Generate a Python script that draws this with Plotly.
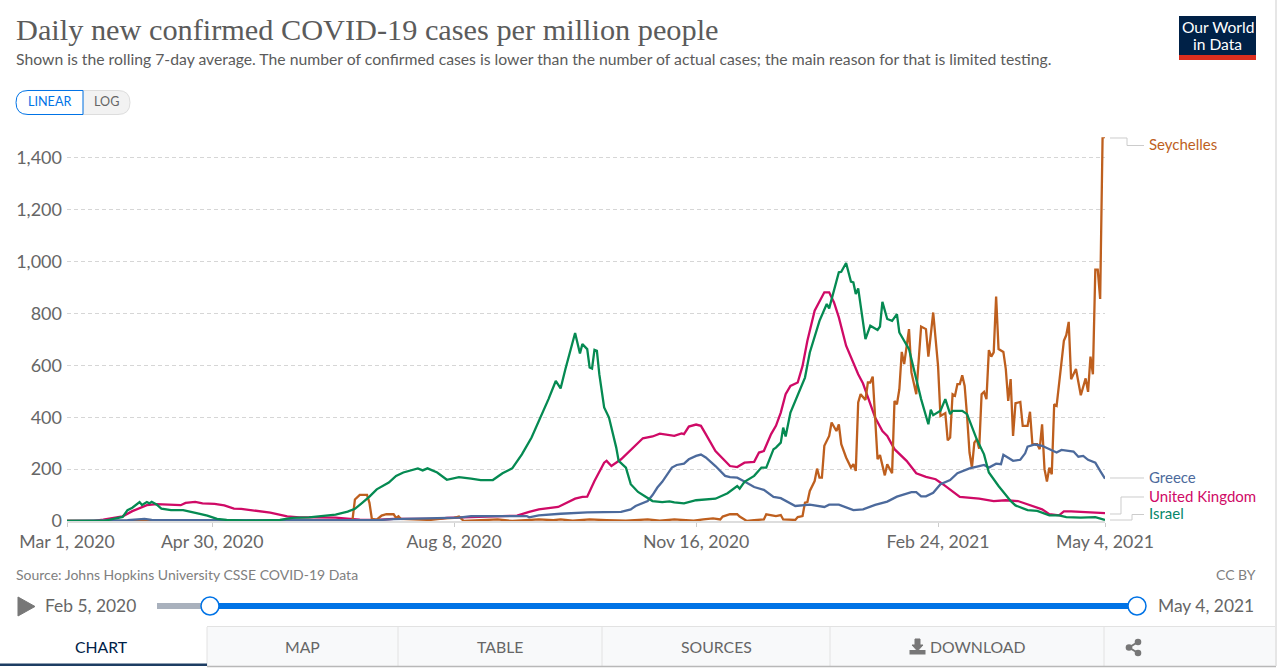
import pandas as pd
import plotly.graph_objects as go

W = 1280
H = 670

start_date = pd.Timestamp("2020-03-01")

# days since Mar 1, 2020 and cases per million
seychelles_days = [0, 60, 117, 118, 119, 121, 124, 125, 126, 128, 130, 132, 135, 136, 137, 138, 145, 150, 156, 160, 162, 164, 171, 178, 184, 195, 201, 204, 209, 216, 223, 231, 240, 245, 251, 256, 259, 263, 267, 270, 271, 274, 277, 278, 281, 284, 288, 289, 291, 293, 295, 296, 301, 302, 304, 305, 306, 307, 309, 310, 311, 312, 313, 315, 316, 318, 319, 320, 322, 324, 325, 326, 327, 328, 330, 331, 332, 333, 335, 336, 338, 339, 341, 342, 343, 344, 345, 346, 348, 349, 351, 353, 355, 356, 358, 360, 361, 363, 364, 365, 366, 367, 368, 369, 370, 371, 372, 373, 374, 375, 376, 377, 378, 379, 380, 381, 382, 383, 384, 385, 387, 388, 389, 390, 391, 392, 394, 395, 397, 398, 399, 401, 402, 403, 404, 405, 406, 407, 408, 409, 411, 412, 413, 414, 415, 417, 419, 421, 422, 423, 424, 425, 426, 427, 428, 429]
seychelles_cases = [0, 0, 0, 5, 83, 101, 101, 70, 8, 5, 21, 26, 26, 12, 18, 8, 5, 4, 10, 12, 17, 0, 3, 6, 0, 6, 3, 6, 1, 6, 3, 1, 6, 1, 6, 3, 1, 6, 10, 6, 17, 26, 26, 17, 0, 3, 6, 26, 23, 19, 23, 6, 4, 15, 19, 71, 73, 116, 154, 202, 167, 167, 290, 328, 380, 347, 373, 296, 245, 206, 219, 193, 457, 489, 467, 534, 534, 557, 238, 254, 176, 219, 184, 463, 450, 508, 652, 605, 740, 573, 489, 750, 740, 634, 804, 598, 405, 416, 311, 322, 489, 483, 528, 528, 562, 521, 405, 264, 206, 302, 315, 279, 489, 498, 470, 659, 634, 650, 866, 663, 652, 586, 463, 547, 328, 454, 459, 367, 367, 421, 296, 296, 277, 373, 200, 152, 206, 180, 450, 444, 611, 695, 717, 768, 547, 586, 485, 550, 498, 634, 566, 969, 969, 856, 1480, 1480]

greece_days = [0, 15, 25, 32, 35, 60, 100, 128, 135, 160, 162, 167, 190, 191, 195, 204, 215, 229, 233, 235, 240, 242, 244, 246, 250, 252, 255, 257, 260, 262, 264, 268, 272, 274, 277, 280, 284, 288, 292, 295, 297, 301, 307, 313, 315, 318, 319, 325, 329, 334, 339, 343, 346, 349, 351, 353, 355, 358, 361, 365, 368, 373, 377, 379, 381, 384, 386, 387, 390, 391, 394, 396, 397, 400, 403, 409, 411, 416, 418, 420, 422, 425, 427, 429]
greece_cases = [0, 1, 3, 8, 4, 3, 2, 3, 7, 10, 13, 19, 19, 14, 22, 28, 33, 35, 45, 58, 77, 100, 129, 151, 206, 216, 221, 238, 251, 256, 245, 212, 174, 169, 167, 152, 131, 120, 93, 88, 77, 58, 63, 54, 63, 62, 63, 42, 45, 62, 75, 94, 102, 111, 111, 95, 95, 109, 142, 158, 184, 203, 212, 216, 206, 221, 219, 255, 238, 232, 236, 261, 287, 295, 290, 264, 274, 268, 248, 251, 236, 225, 193, 163]

uk_days = [0, 11, 15, 23, 27, 33, 37, 43, 47, 49, 53, 56, 61, 65, 69, 72, 77, 84, 91, 96, 102, 111, 117, 121, 128, 135, 143, 153, 157, 162, 176, 186, 191, 195, 203, 210, 213, 215, 218, 222, 223, 225, 229, 234, 238, 242, 245, 251, 254, 255, 257, 260, 262, 264, 268, 274, 277, 280, 284, 286, 288, 291, 293, 295, 297, 299, 302, 304, 306, 309, 311, 313, 315, 317, 319, 322, 327, 329, 334, 337, 339, 342, 347, 351, 355, 359, 362, 369, 377, 383, 388, 393, 403, 406, 410, 412, 415, 425, 429]
uk_cases = [0, 0, 5, 18, 38, 61, 65, 61, 61, 70, 74, 68, 66, 60, 48, 47, 40, 32, 18, 14, 14, 13, 8, 5, 4, 8, 8, 8, 12, 14, 17, 21, 35, 45, 54, 86, 93, 94, 154, 225, 232, 212, 238, 283, 319, 326, 337, 328, 338, 335, 364, 372, 367, 335, 270, 212, 208, 225, 228, 264, 270, 335, 367, 418, 489, 521, 534, 598, 695, 811, 849, 882, 882, 843, 785, 676, 566, 530, 399, 347, 328, 277, 232, 184, 170, 161, 142, 93, 86, 77, 80, 77, 45, 26, 22, 37, 37, 32, 30]

israel_days = [0, 15, 23, 25, 27, 30, 31, 33, 34, 35, 37, 39, 43, 48, 54, 58, 62, 66, 74, 88, 93, 100, 107, 111, 116, 119, 122, 125, 128, 133, 136, 139, 145, 147, 149, 153, 157, 162, 167, 171, 176, 180, 184, 188, 192, 196, 199, 202, 204, 206, 209, 210, 212, 213, 215, 216, 217, 218, 219, 220, 222, 224, 227, 228, 231, 233, 236, 240, 242, 246, 249, 251, 255, 260, 268, 273, 277, 278, 280, 284, 287, 289, 292, 293, 295, 296, 297, 299, 302, 305, 307, 311, 314, 315, 319, 320, 322, 324, 325, 326, 327, 330, 332, 335, 336, 337, 339, 341, 343, 344, 348, 351, 353, 356, 357, 358, 361, 363, 365, 366, 370, 372, 376, 379, 381, 385, 390, 392, 397, 401, 406, 410, 413, 419, 425, 429]
israel_cases = [0, 0, 16, 42, 51, 73, 62, 73, 68, 74, 64, 48, 42, 42, 29, 21, 8, 4, 1, 4, 12, 14, 21, 25, 36, 47, 70, 94, 122, 148, 174, 187, 203, 195, 203, 187, 159, 169, 163, 158, 158, 184, 203, 257, 322, 405, 470, 540, 511, 586, 695, 725, 646, 682, 663, 592, 588, 660, 656, 566, 438, 399, 283, 232, 206, 142, 112, 90, 77, 73, 76, 72, 68, 80, 86, 107, 135, 125, 151, 174, 206, 206, 277, 283, 302, 360, 326, 418, 483, 553, 650, 772, 837, 820, 959, 961, 995, 923, 920, 875, 897, 701, 753, 737, 750, 845, 779, 772, 798, 727, 663, 541, 470, 373, 429, 408, 425, 470, 412, 425, 425, 412, 315, 257, 187, 135, 77, 60, 42, 39, 22, 22, 15, 13, 15, 4]

x_tick_days = [0, 60, 160, 260, 360, 429]
x_tick_labels = ["Mar 1, 2020", "Apr 30, 2020", "Aug 8, 2020", "Nov 16, 2020", "Feb 24, 2021", "May 4, 2021"]
y_ticks = [0, 200, 400, 600, 800, 1000, 1200, 1400]

colors = {
    "Seychelles": "#be5f1e",
    "Greece": "#4c6a9c",
    "United Kingdom": "#cf0a66",
    "Israel": "#058a52",
}


def to_dates(days):
    return start_date + pd.to_timedelta(days, unit="D")


# pixel helpers for the page furniture around the plot
def fx(x):
    return x / W


def fy(y):
    return 1 - y / H


def pt(x, y):
    return f"{fx(x):.5f},{fy(y):.5f}"


def line(x0, y0, x1, y1, color, width=1):
    return dict(type="line", xref="paper", yref="paper", x0=fx(x0), y0=fy(y0), x1=fx(x1), y1=fy(y1),
                line=dict(color=color, width=width))


def box(x0, y0, x1, y1, fill, border=None):
    return dict(type="rect", xref="paper", yref="paper", x0=fx(x0), y0=fy(y0), x1=fx(x1), y1=fy(y1),
                fillcolor=fill, line=dict(color=border or fill, width=1 if border else 0))


def dot(cx, cy, r, fill, border=None, width=2):
    return dict(type="circle", xref="paper", yref="paper", x0=fx(cx - r), y0=fy(cy - r), x1=fx(cx + r), y1=fy(cy + r),
                fillcolor=fill, line=dict(color=border or fill, width=width if border else 0))


def path(points, color, fill=None, width=1):
    d = "M " + " L ".join(pt(x, y) for x, y in points)
    if fill:
        d += " Z"
    return dict(type="path", xref="paper", yref="paper", path=d, fillcolor=fill,
                line=dict(color=color, width=width))


def label(x, y, text, size, color, anchor="left", family="Lato"):
    # annotations carry a 2px pad, take it back out
    shift = {"left": -2, "right": 2, "center": 0}[anchor]
    return dict(xref="paper", yref="paper", x=fx(x), y=fy(y), text=text, showarrow=False,
                xanchor=anchor, yanchor="middle", xshift=shift, yshift=1,
                font=dict(family=family, size=size, color=color))


fig = go.Figure()

traces = [
    ("United Kingdom", uk_days, uk_cases),
    ("Seychelles", seychelles_days, seychelles_cases),
    ("Greece", greece_days, greece_cases),
    ("Israel", israel_days, israel_cases),
]
for name, days, cases in traces:
    fig.add_trace(go.Scatter(
        x=to_dates(days),
        y=cases,
        mode="lines",
        name=name,
        cliponaxis=False,
        line=dict(color=colors[name], width=2.3),
    ))

shapes = []

# connector lines to the series labels
grey = "#cccccc"
shapes.append(path([(1110, 138), (1127, 138), (1127, 145.5), (1144, 145.5)], grey))
shapes.append(path([(1110, 478), (1144, 478)], grey))
shapes.append(path([(1110, 514), (1121, 514), (1121, 497), (1144, 497)], grey))
shapes.append(path([(1110, 520), (1132, 520), (1132, 514.5), (1144, 514.5)], grey))

# linear / log toggle
shapes.append(dict(type="path", xref="paper", yref="paper", fillcolor="#f2f2f2", line=dict(color="#dddddd", width=1),
                   path=f"M {pt(83, 90.5)} L {pt(118, 90.5)} Q {pt(130, 90.5)} {pt(130, 102.5)} Q {pt(130, 114.5)} {pt(118, 114.5)} L {pt(83, 114.5)} Z"))
shapes.append(dict(type="path", xref="paper", yref="paper", fillcolor="#ffffff", line=dict(color="#0073e6", width=1),
                   path=f"M {pt(83, 90.5)} L {pt(28, 90.5)} Q {pt(16, 90.5)} {pt(16, 102.5)} Q {pt(16, 114.5)} {pt(28, 114.5)} L {pt(83, 114.5)} Z"))

# logo
shapes.append(box(1179, 16, 1256, 55, "#002147"))
shapes.append(box(1179, 55, 1256, 60, "#dc2e1f"))

# timeline
shapes.append(path([(18, 597), (35, 606.5), (18, 616)], "#777777", fill="#777777"))
shapes.append(box(157, 603, 210, 609, "#a9b1bd"))
shapes.append(box(210, 603, 1137, 609, "#0073e6"))
shapes.append(dot(210, 606, 9, "#ffffff", "#0073e6", 1.5))
shapes.append(dot(1137, 606, 9, "#ffffff", "#0073e6", 1.5))

# tabs along the bottom
shapes.append(box(207, 627, 1275, 666, "#f8f9fa"))
shapes.append(line(207, 626.5, 1275, 626.5, "#e2e2e2"))
for tab_x in [207, 398, 602, 830, 1104]:
    shapes.append(line(tab_x, 627, tab_x, 666, "#e2e2e2"))
shapes.append(box(0, 663.5, 207, 666, "#1d3d63"))
shapes.append(line(207, 666.5, 1276, 666.5, "#b8b8b8", 1.5))
shapes.append(line(1276, 0, 1276, 666, "#dedede", 1.5))

# download icon
icon = "#777777"
shapes.append(path([(915, 639), (920, 639), (920, 645), (923, 645), (917.5, 651), (912, 645), (915, 645)], icon, fill=icon))
shapes.append(box(909.5, 650, 925.5, 654.5, icon))

# share icon
shapes.append(path([(1138, 642), (1129, 647.5), (1138, 653)], icon, width=2))
shapes.append(dot(1138, 642, 3.3, icon))
shapes.append(dot(1129, 647.5, 3.3, icon))
shapes.append(dot(1138, 653, 3.3, icon))

annotations = [
    label(16, 31, "Daily new confirmed COVID-19 cases per million people", 30.3, "#5b5b5b", family="Liberation Serif"),
    label(16, 59.5, "Shown is the rolling 7-day average. The number of confirmed cases is lower than the number of actual cases; the main reason for that is limited testing.", 15.75, "#5b5b5b"),
    label(49.5, 102.5, "LINEAR", 12.6, "#0073e6", "center"),
    label(106, 102.5, "LOG", 12.6, "#666666", "center"),
    label(1217.5, 28, "Our World", 15.6, "#ffffff", "center"),
    label(1217.5, 44.5, "in Data", 15.6, "#ffffff", "center"),
    label(1149, 145, "Seychelles", 15, colors["Seychelles"]),
    label(1149, 478, "Greece", 15, colors["Greece"]),
    label(1149, 497, "United Kingdom", 15, colors["United Kingdom"]),
    label(1149, 514, "Israel", 15, "#06876a"),
    label(16, 575, "Source: Johns Hopkins University CSSE COVID-19 Data", 14, "#808080"),
    label(1256, 575, "CC BY", 14, "#808080", "right"),
    label(45, 606.5, "Feb 5, 2020", 17.4, "#666666"),
    label(1158, 606.5, "May 4, 2021", 17.4, "#666666"),
    label(101, 647, "CHART", 15.8, "#002147", "center"),
    label(302, 647, "MAP", 15.8, "#666666", "center"),
    label(500, 647, "TABLE", 15.8, "#666666", "center"),
    label(716, 647, "SOURCES", 15.8, "#666666", "center"),
    label(978, 647, "DOWNLOAD", 15.8, "#666666", "center"),
]

fig.update_layout(
    template="none",
    width=W,
    height=H,
    autosize=False,
    margin=dict(l=0, r=0, t=0, b=0, pad=0, autoexpand=False),
    paper_bgcolor="#ffffff",
    plot_bgcolor="#ffffff",
    showlegend=False,
    hovermode=False,
    font=dict(family="Lato", color="#666666"),
    shapes=shapes,
    annotations=annotations,
    xaxis=dict(
        type="date",
        automargin=False,
        domain=[fx(67), fx(1105)],
        range=[to_dates([0])[0], to_dates([429])[0]],
        tickmode="array",
        tickvals=to_dates(x_tick_days),
        ticktext=x_tick_labels,
        ticks="outside",
        ticklen=4,
        tickcolor="#cccccc",
        tickfont=dict(family="Lato", size=17.7, color="#666666"),
        showgrid=False,
        showline=True,
        linecolor="#dddddd",
        linewidth=2,
        zeroline=False,
    ),
    yaxis=dict(
        automargin=False,
        domain=[fy(521), fy(137.2)],
        range=[0, 1480],
        tickmode="array",
        tickvals=y_ticks,
        tickformat=",",
        ticks="",
        ticklabelstandoff=4,
        tickfont=dict(family="Lato", size=18, color="#666666"),
        showgrid=True,
        gridcolor="#d6d6d6",
        griddash="4px,3px",
        gridwidth=1,
        zeroline=False,
        showline=False,
    ),
)

fig.write_html("out.html", config=dict(displayModeBar=False), post_script="document.body.style.margin='0';")
